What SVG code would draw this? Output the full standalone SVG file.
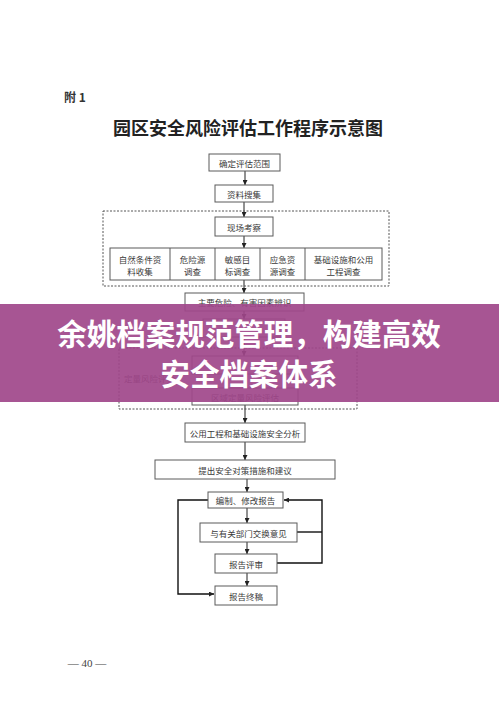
<svg xmlns="http://www.w3.org/2000/svg" width="499" height="706" viewBox="0 0 499 706">
<defs>
<marker id="ah" viewBox="0 0 6 6" refX="6" refY="3" markerWidth="5" markerHeight="5" orient="auto" markerUnits="userSpaceOnUse">
<path d="M0,0 L6,3 L0,6 z" fill="#222"/>
</marker>
<style>
.box{fill:#fff;stroke:#5a5a5a;stroke-width:1}
.dash{fill:none;stroke:#555;stroke-width:1;stroke-dasharray:2 1.5}
.t{font-family:"Noto Sans CJK SC","Noto Sans",sans-serif;font-size:8.5px;fill:#3a3a3a;text-anchor:middle;dominant-baseline:central}
.c{fill:none;stroke:#222;stroke-width:1;marker-end:url(#ah)}
.loop{fill:none;stroke:#111;stroke-width:1.4}
</style>
</defs>
<rect width="499" height="706" fill="#fff"/>
<text x="64" y="102" font-family="'Noto Sans CJK SC',sans-serif" font-size="12" font-weight="bold" fill="#333">附 1</text>
<text x="248" y="135" font-family="'Noto Sans CJK SC',sans-serif" font-size="18" font-weight="bold" fill="#222" text-anchor="middle">园区安全风险评估工作程序示意图</text>

<g id="connectors">
<line class="c" x1="245" y1="171" x2="245" y2="185"/>
<line class="c" x1="244" y1="202" x2="244" y2="217"/>
<line class="c" x1="244" y1="236" x2="244" y2="248"/>
<line class="c" x1="244" y1="280" x2="244" y2="293"/>
<line class="c" x1="244" y1="311" x2="244" y2="319"/>
<line class="c" x1="244" y1="337" x2="244" y2="356"/>
<line class="c" x1="245" y1="405" x2="245" y2="423"/>
<line class="c" x1="245" y1="442" x2="245" y2="460"/>
<line class="c" x1="247" y1="479" x2="247" y2="492"/>
<line class="c" x1="247" y1="508" x2="247" y2="523"/>
<line class="c" x1="247" y1="542" x2="247" y2="554"/>
<line class="c" x1="247" y1="573" x2="247" y2="586"/>
<polyline class="loop" points="208,500 178,500 178,594 214,594" marker-end="url(#ah)"/>
<polyline class="loop" points="277,563 322,563 322,500 284,500" marker-end="url(#ah)"/>
<line class="loop" x1="297" y1="532" x2="322" y2="532"/>
</g>

<g id="scope"><rect class="box" x="209" y="154" width="71" height="17"/><text class="t" x="244.5" y="162.5">确定评估范围</text></g>
<g id="collect"><rect class="box" x="215" y="185" width="58" height="17"/><text class="t" x="244" y="193.5">资料搜集</text></g>
<g id="survey-group"><rect class="dash" x="103" y="211" width="286" height="75"/></g>
<g id="site"><rect class="box" x="215" y="217" width="58" height="19"/><text class="t" x="244" y="226.5">现场考察</text></g>
<g id="survey-row">
<rect class="box" x="110" y="248" width="272" height="32"/>
<line x1="170" y1="248" x2="170" y2="280" stroke="#5a5a5a"/>
<line x1="215" y1="248" x2="215" y2="280" stroke="#5a5a5a"/>
<line x1="260" y1="248" x2="260" y2="280" stroke="#5a5a5a"/>
<line x1="305" y1="248" x2="305" y2="280" stroke="#5a5a5a"/>
<text class="t" x="140" y="259">自然条件资</text><text class="t" x="140" y="271">料收集</text>
<text class="t" x="192.5" y="259">危险源</text><text class="t" x="192.5" y="271">调查</text>
<text class="t" x="237.5" y="259">敏感目</text><text class="t" x="237.5" y="271">标调查</text>
<text class="t" x="282.5" y="259">应急资</text><text class="t" x="282.5" y="271">源调查</text>
<text class="t" x="343.5" y="259">基础设施和公用</text><text class="t" x="343.5" y="271">工程调查</text>
</g>
<g id="identify"><rect class="box" x="185" y="293" width="119" height="18"/><text class="t" x="244.5" y="302">主要危险、有害因素辨识</text></g>
<g id="hidden1"><rect class="box" x="203" y="319" width="82" height="18"/></g>
<g id="quant-group"><rect class="dash" x="119" y="348" width="238" height="61"/><text class="t" x="124" y="378" style="text-anchor:start">定量风险评价</text></g>
<g id="quantA"><rect class="box" x="192" y="356" width="106" height="18"/></g>
<g id="quantB"><rect class="box" x="192" y="388" width="106" height="17"/><text class="t" x="245" y="396.5">区域定量风险评估</text></g>
<g id="public"><rect class="box" x="185" y="423" width="120" height="19"/><text class="t" x="245" y="432.5">公用工程和基础设施安全分析</text></g>
<g id="measures"><rect class="box" x="155" y="460" width="180" height="19"/><text class="t" x="245" y="469.5">提出安全对策措施和建议</text></g>
<g id="draft"><rect class="box" x="208" y="492" width="75" height="16"/><text class="t" x="245.5" y="500">编制、修改报告</text></g>
<g id="exchange"><rect class="box" x="200" y="523" width="97" height="19"/><text class="t" x="248.5" y="532.5">与有关部门交换意见</text></g>
<g id="review"><rect class="box" x="215" y="554" width="62" height="19"/><text class="t" x="246" y="563.5">报告评审</text></g>
<g id="final"><rect class="box" x="215" y="586" width="62" height="19"/><text class="t" x="246" y="595.5">报告终稿</text></g>

<text x="87" y="667" font-family="'Liberation Serif',serif" font-size="11" fill="#444" text-anchor="middle">— 40 —</text>

<g id="banner">
<rect x="0" y="304" width="499" height="98" fill="#a0468a" fill-opacity="0.92"/>
<text x="249" y="344.5" font-family="'Noto Sans CJK SC',sans-serif" font-size="29.5" font-weight="bold" fill="#fff" text-anchor="middle">余姚档案规范管理，构建高效</text>
<text x="249" y="385" font-family="'Noto Sans CJK SC',sans-serif" font-size="29.5" font-weight="bold" fill="#fff" text-anchor="middle">安全档案体系</text>
</g>
</svg>
